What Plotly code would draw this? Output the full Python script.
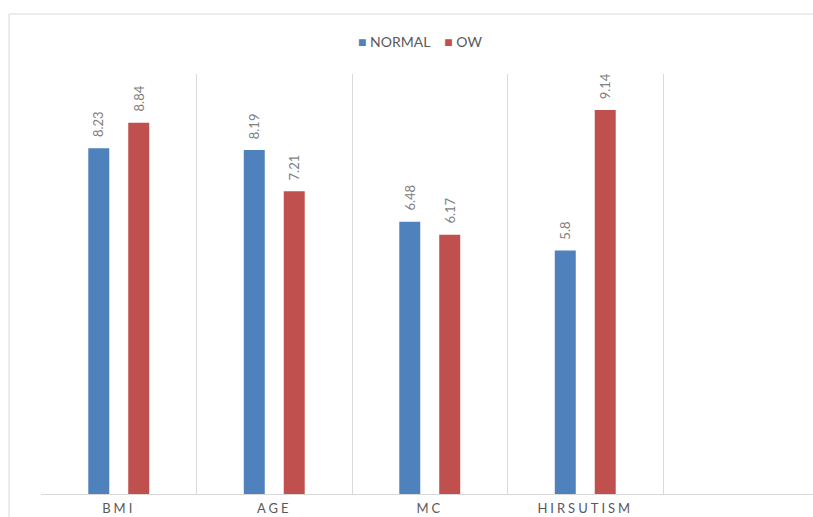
import plotly.graph_objects as go

# Mean scores per parameter for each weight group
categories = ["BMI", "AGE", "MC", "HIRSUTISM"]
normal_values = [8.23, 8.19, 6.48, 5.8]
ow_values = [8.84, 7.21, 6.17, 9.14]
series_names = ["NORMAL", "OW"]

blue = "#4F81BD"
red = "#C0504D"
label_grey = "#595959"
value_grey = "#7f7f7f"
grid_grey = "#d9d9d9"
font_family = "Lato, 'Open Sans', sans-serif"

W, H = 813, 517
m_l, m_r, m_t, m_b = 41, 0, 74, 23
plot_w = W - m_l - m_r
plot_h = H - m_t - m_b
cat_px = 155.5  # width of one category band in pixels
bar_offset_px = 20  # distance of each bar centre from its category centre

fig = go.Figure()
series = [(series_names[0], normal_values, blue, -bar_offset_px),
          (series_names[1], ow_values, red, bar_offset_px)]
for name, vals, col, shift in series:
    fig.add_trace(go.Bar(
        x=categories, y=vals, name=name,
        marker=dict(color=col, line=dict(width=0)),
        showlegend=False,
    ))
    # value labels, rotated, sitting a little above each bar
    for cat, v in zip(categories, vals):
        fig.add_annotation(
            x=cat, y=v, xref="x", yref="y", text=f"{v:g}",
            textangle=-90, showarrow=False,
            xanchor="center", yanchor="bottom",
            xshift=shift, yshift=9,
            font=dict(family=font_family, size=13, color=value_grey),
        )

# legend line at the top centre
legend_text = (f"<span style='color:{blue}'>■</span>&nbsp;{series_names[0]}"
               f"&nbsp;&nbsp;&nbsp;&nbsp;<span style='color:{red}'>■</span>&nbsp;{series_names[1]}")
fig.add_annotation(
    xref="paper", yref="paper",
    x=(420 - m_l) / plot_w, y=(plot_h + m_t - 41) / plot_h,
    xanchor="center", yanchor="middle", showarrow=False,
    text=legend_text,
    font=dict(family=font_family, size=14, color=label_grey),
)

x_end = -0.5 + plot_w / cat_px

# outer chart frame, extending past the right and bottom edges
fig.add_shape(type="rect", xref="paper", yref="paper",
              x0=(9 - m_l) / plot_w, x1=1.05,
              y0=-0.2, y1=(plot_h + m_t - 14) / plot_h,
              line=dict(color=grid_grey, width=1), layer="below")

fig.update_layout(
    width=W, height=H,
    margin=dict(l=m_l, r=m_r, t=m_t, b=m_b, autoexpand=False),
    paper_bgcolor="white", plot_bgcolor="white",
    barmode="group", bargap=0.486, bargroupgap=0.475,
    showlegend=False,
    font=dict(family=font_family, color=label_grey),
)
fig.update_xaxes(
    type="category", range=[-0.5, x_end], tickson="boundaries",
    showgrid=True, gridcolor=grid_grey, gridwidth=1,
    showline=True, linecolor=grid_grey, linewidth=1,
    ticks="", ticklabelstandoff=2, automargin=False,
    tickfont=dict(family=font_family, size=13, color=label_grey),
    zeroline=False, fixedrange=True,
)
fig.update_yaxes(
    range=[0, 10], showgrid=False, showticklabels=False,
    zeroline=False, showline=False, ticks="", fixedrange=True,
    automargin=False,
)

fig.write_html(
    "out.html",
    config={"displayModeBar": False},
    post_script="document.querySelectorAll('.xtick text').forEach(function(t){t.style.letterSpacing='3px';});",
)
